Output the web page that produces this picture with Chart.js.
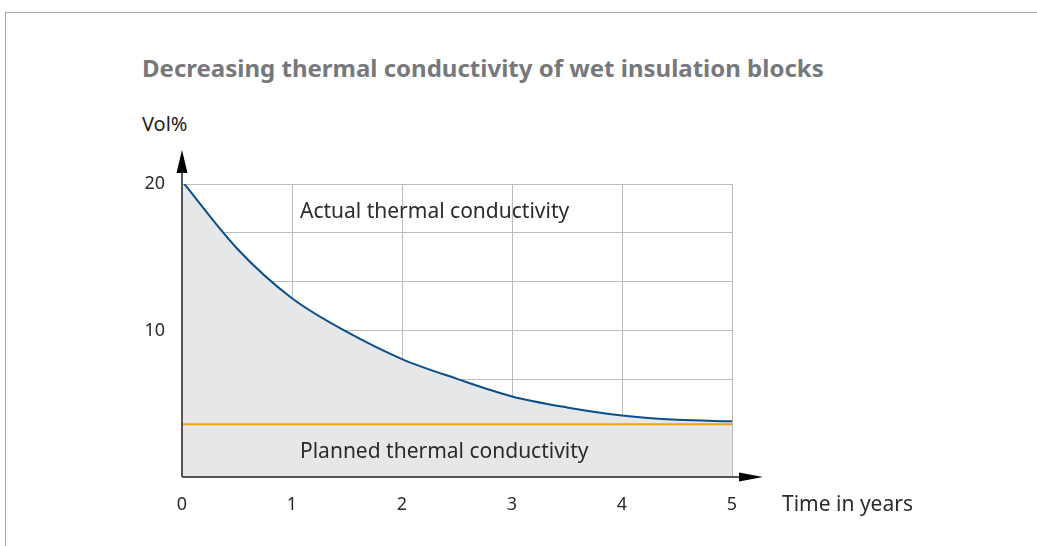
<!DOCTYPE html>
<html>
<head>
<meta charset="utf-8">
<script src="https://cdn.jsdelivr.net/npm/chart.js@4.4.1/dist/chart.umd.min.js"></script>
<style>
  html, body { margin: 0; padding: 0; background: #fff; }
  body { width: 1037px; height: 546px; position: relative; overflow: hidden; font-family: "Noto Sans", sans-serif; }
  #frame { position: absolute; left: 5px; top: 12px; right: -2px; bottom: -2px; border-top: 1px solid #aaaaaa; border-left: 1px solid #aaaaaa; }
  #title { position: absolute; left: 142px; top: 52px; font-size: 24px; font-weight: bold; color: #77787b; white-space: nowrap; line-height: 1.362; }
  #unit { position: absolute; left: 142px; top: 110px; font-size: 20px; color: #222; white-space: nowrap; line-height: 1.362; }
  #wrap { position: absolute; left: 0; top: 0; width: 1037px; height: 546px; }
</style>
</head>
<body>
<div id="frame"></div>
<div id="title">Decreasing thermal conductivity of wet insulation blocks</div>
<div id="unit">Vol%</div>
<div id="wrap"><canvas id="c" width="1037" height="546"></canvas></div>
<script>
// ---- data ----
const years = [0, 0.5, 1, 1.5, 2, 2.5, 3, 3.5, 4, 4.5, 5];
const actualConductivity = [20.2, 15.6, 12.2, 9.9, 8.05, 6.7, 5.5, 4.75, 4.2, 3.9, 3.8];
const plannedYears = [0, 5];
const plannedConductivity = [3.6, 3.6];
const xTickValues = [0, 1, 2, 3, 4, 5];
const yGridValues = [0, 10/3, 20/3, 10, 40/3, 50/3, 20];
const yTickLabels = ['10', '20'];
const xAxisTitle = 'Time in years';
const actualLabel = 'Actual thermal conductivity';
const plannedLabel = 'Planned thermal conductivity';

const textColor = '#2b2b2b';
const gridColor = '#bdbdbf';
const fontFamily = '"Noto Sans", sans-serif';

const decorPlugin = {
  id: 'decor',
  afterDatasetsDraw(chart) {
    const ctx = chart.ctx;
    const xs = chart.scales.x, ys = chart.scales.y;
    const x0 = xs.getPixelForValue(0), x5 = xs.getPixelForValue(5);
    const y0 = ys.getPixelForValue(0), y20 = ys.getPixelForValue(20);
    ctx.save();
    // axis lines
    ctx.strokeStyle = '#555';
    ctx.lineWidth = 2;
    ctx.beginPath();
    ctx.moveTo(x0, y0); ctx.lineTo(x0, y20 - 12);
    ctx.moveTo(x0, y0); ctx.lineTo(x5 + 8, y0);
    ctx.stroke();
    // arrowheads
    ctx.fillStyle = '#000';
    ctx.beginPath();
    ctx.moveTo(x0, y20 - 34);
    ctx.lineTo(x0 - 5.5, y20 - 11);
    ctx.lineTo(x0 + 5.5, y20 - 11);
    ctx.closePath();
    ctx.fill();
    ctx.beginPath();
    ctx.moveTo(x5 + 31, y0);
    ctx.lineTo(x5 + 7, y0 - 4.5);
    ctx.lineTo(x5 + 7, y0 + 4.5);
    ctx.closePath();
    ctx.fill();
    // labels
    ctx.fillStyle = textColor;
    ctx.font = '21px ' + fontFamily;
    ctx.textBaseline = 'middle';
    ctx.textAlign = 'left';
    ctx.fillText(actualLabel, xs.getPixelForValue(1) + 8, ys.getPixelForValue(18.1));
    ctx.fillText(plannedLabel, xs.getPixelForValue(1) + 8, ys.getPixelForValue(1.7));
    ctx.fillText(xAxisTitle, x5 + 50, y0 + 28);
    ctx.restore();
  }
};

new Chart(document.getElementById('c'), {
  type: 'scatter',
  data: {
    datasets: [
      {
        label: 'Planned',
        data: plannedYears.map((x, i) => ({ x, y: plannedConductivity[i] })),
        showLine: true,
        borderColor: '#f0a30a',
        borderWidth: 2,
        pointRadius: 0,
        fill: false,
        order: 1
      },
      {
        label: 'Actual',
        data: years.map((x, i) => ({ x, y: actualConductivity[i] })),
        showLine: true,
        borderColor: '#0b4f8a',
        borderWidth: 2,
        backgroundColor: '#e6e7e9',
        fill: 'origin',
        pointRadius: 0,
        cubicInterpolationMode: 'monotone',
        order: 2
      }
    ]
  },
  options: {
    responsive: false,
    animation: false,
    events: [],
    layout: { padding: { left: 0, top: 184, right: 1037 - 732, bottom: 0 } },
    plugins: { legend: { display: false }, tooltip: { enabled: false }, title: { display: false } },
    scales: {
      x: {
        type: 'linear', min: 0, max: 5,
        afterFit(scale) { scale.height = 69; },
        afterBuildTicks(scale) { scale.ticks = xTickValues.map(v => ({ value: v })); },
        grid: { color: gridColor, lineWidth: 1, drawTicks: false },
        border: { display: false },
        ticks: { padding: 17, color: textColor, font: { family: fontFamily, size: 18 }, maxRotation: 0 }
      },
      y: {
        type: 'linear', min: 0, max: 20,
        afterFit(scale) { scale.width = 182; },
        afterBuildTicks(scale) { scale.ticks = yGridValues.map(v => ({ value: v })); },
        grid: { color: gridColor, lineWidth: 1, drawTicks: false },
        border: { display: false },
        ticks: {
          padding: 17, color: textColor, font: { family: fontFamily, size: 18 },
          callback(v) { const s = String(Math.round(v * 1000) / 1000); return yTickLabels.includes(s) ? s : ''; }
        }
      }
    }
  },
  plugins: [decorPlugin]
});
</script>
</body>
</html>
